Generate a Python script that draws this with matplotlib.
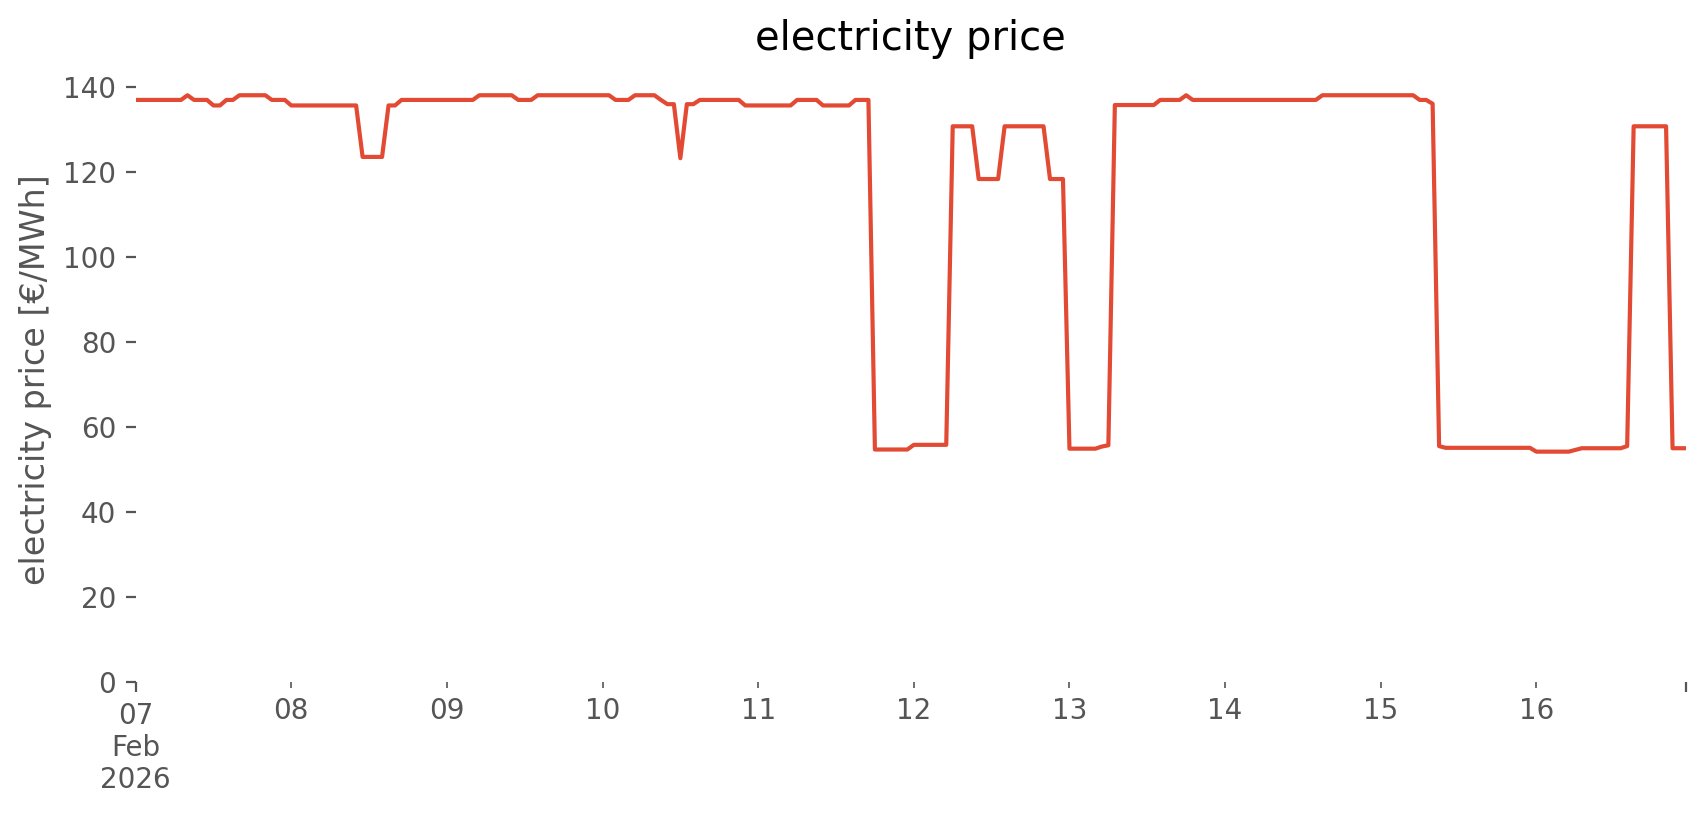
import matplotlib
matplotlib.use("Agg")
import matplotlib.pyplot as plt
import pandas as pd

# hourly electricity price [€/MWh], one list per day (07 Feb 2026 .. 16 Feb 2026)
day07 = [136.9, 136.9, 136.9, 136.9, 136.9, 136.9, 136.9, 136.9, 138.0, 136.9, 136.9, 136.9,
         135.6, 135.6, 136.9, 136.9, 138.0, 138.0, 138.0, 138.0, 138.0, 136.9, 136.9, 136.9]
day08 = [135.6, 135.6, 135.6, 135.6, 135.6, 135.6, 135.6, 135.6, 135.6, 135.6, 135.6, 123.5,
         123.5, 123.5, 123.5, 135.6, 135.6, 136.9, 136.9, 136.9, 136.9, 136.9, 136.9, 136.9]
day09 = [136.9, 136.9, 136.9, 136.9, 136.9, 138.0, 138.0, 138.0, 138.0, 138.0, 138.0, 136.9,
         136.9, 136.9, 138.0, 138.0, 138.0, 138.0, 138.0, 138.0, 138.0, 138.0, 138.0, 138.0]
day10 = [138.0, 138.0, 136.9, 136.9, 136.9, 138.0, 138.0, 138.0, 138.0, 136.9, 135.9, 135.9,
         123.2, 135.9, 135.9, 136.9, 136.9, 136.9, 136.9, 136.9, 136.9, 136.9, 135.6, 135.6]
day11 = [135.6, 135.6, 135.6, 135.6, 135.6, 135.6, 136.9, 136.9, 136.9, 136.9, 135.6, 135.6,
         135.6, 135.6, 135.6, 136.9, 136.9, 136.9, 54.7, 54.7, 54.7, 54.7, 54.7, 54.7]
day12 = [55.8, 55.8, 55.8, 55.8, 55.8, 55.8, 130.7, 130.7, 130.7, 130.7, 118.3, 118.3,
         118.3, 118.3, 130.7, 130.7, 130.7, 130.7, 130.7, 130.7, 130.7, 118.3, 118.3, 118.3]
day13 = [54.9, 54.9, 54.9, 54.9, 54.9, 55.4, 55.7, 135.7, 135.7, 135.7, 135.7, 135.7,
         135.7, 135.7, 136.9, 136.9, 136.9, 136.9, 138.0, 136.9, 136.9, 136.9, 136.9, 136.9]
day14 = [136.9, 136.9, 136.9, 136.9, 136.9, 136.9, 136.9, 136.9, 136.9, 136.9, 136.9, 136.9,
         136.9, 136.9, 136.9, 138.0, 138.0, 138.0, 138.0, 138.0, 138.0, 138.0, 138.0, 138.0]
day15 = [138.0, 138.0, 138.0, 138.0, 138.0, 138.0, 136.9, 136.9, 136.0, 55.5, 55.1, 55.1,
         55.1, 55.1, 55.1, 55.1, 55.1, 55.1, 55.1, 55.1, 55.1, 55.1, 55.1, 55.1]
day16 = [54.2, 54.2, 54.2, 54.2, 54.2, 54.2, 54.6, 55.0, 55.0, 55.0, 55.0, 55.0,
         55.0, 55.0, 55.5, 130.7, 130.7, 130.7, 130.7, 130.7, 130.7, 55.0, 55.0, 55.0]

start = "2026-02-07 00:00"
title = "electricity price"
ylabel = "electricity price [€/MWh]"

values = day07 + day08 + day09 + day10 + day11 + day12 + day13 + day14 + day15 + day16
index = pd.date_range(start, periods=len(values), freq="h")
price = pd.Series(values, index=index)

plt.style.use("ggplot")
plt.rcParams["axes.facecolor"] = "white"
plt.rcParams["figure.facecolor"] = "white"
plt.rcParams["axes.grid"] = False
plt.rcParams["font.family"] = ["DejaVu Sans"]

DPI = 200
fig = plt.figure(figsize=(1706 / DPI, 815 / DPI), dpi=DPI)
ax = fig.add_axes([0.0795, 0.163, 0.9085, 0.742])
price.plot(ax=ax, color="#E24A33", linewidth=1.5)
ax.set_ylim(bottom=0)
ax.set_title(title, color="black", pad=10)
ax.set_ylabel(ylabel)
ax.set_xlabel("")
ax.grid(False)
for s in ax.spines.values():
    s.set_visible(False)

fig.savefig("out.png", dpi=DPI)
